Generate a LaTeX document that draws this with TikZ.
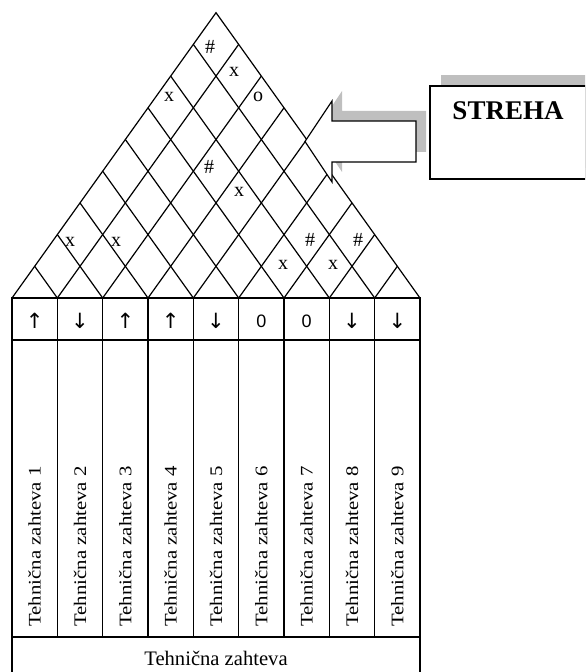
\documentclass[tikz,border=0pt]{standalone}
\usepackage{fontspec}
\setmainfont{Liberation Serif}
\newfontfamily\dirfont{Liberation Sans}
\newfontfamily\arrowfont{DejaVu Sans}
\usepackage{tikz}

\tikzset{
  gridline/.style={line width=0.6pt},
  tableline/.style={line width=0.7pt},
  corrmark/.style={inner sep=0pt, font=\fontsize{10}{10}\selectfont},
  dirmark/.style={inner sep=0pt, font=\dirfont\fontsize{9}{9}\selectfont},
  dirarrow/.style={inner sep=0pt, font=\arrowfont\fontsize{10.5}{10.5}\selectfont},
  reqlabel/.style={rotate=90, anchor=base west, inner sep=0pt, font=\fontsize{10.4}{12}\selectfont},
  shadow/.style={fill=black!25, draw=none}
}

\begin{document}
\begin{tikzpicture}[x=0.5pt,y=-0.5pt]
\clip (0,0) rectangle (585,672);
\def\colw{45.333}
\def\rowh{31.7}
% roof
\draw[gridline] (12,298) -- (216,12.7) -- (420,298);
\foreach \i in {1,...,8} {
  \draw[gridline] ({12+\i*\colw},298) -- ({(12+\i*\colw+420)/2},{298-(9-\i)*\rowh});
  \draw[gridline] ({12+\i*\colw},298) -- ({(12+\i*\colw+12)/2},{298-\i*\rowh});
}
% correlations
\foreach \s/\xx/\yy/\nm in {\#/210/47/c19, x/234/72/c29, x/169/97/c17, o/258/97/c39,
    \#/209/167/c37, x/239/192/c47, x/70/242/c13, x/116/242/c24,
    x/283/265/c67, \#/310/240/c68, x/333/265/c78, \#/358/240/c79}
  \node[corrmark] (\nm) at (\xx,\yy) {\s};
% table
\draw[tableline] (12,298) rectangle (420,700);
\draw[tableline] (12,340) -- (420,340);
\draw[tableline] (12,637) -- (420,637);
\foreach \i in {1,...,8}
  \draw[tableline] ({12+\i*\colw},298) -- ({12+\i*\colw},637);
\foreach \d/\st [count=\i] in {↑/dirarrow,↓/dirarrow,↑/dirarrow,↑/dirarrow,↓/dirarrow,0/dirmark,0/dirmark,↓/dirarrow,↓/dirarrow}
  \node[\st] (dir\i) at ({12+(\i-0.5)*\colw},321) {\d};
\foreach \i in {1,...,9}
  \node[reqlabel] (req\i) at ({12+(\i-0.5)*\colw+6},627) {\scalebox{1}[0.85]{Tehnična zahteva \i}};
\node[anchor=base, inner sep=0pt, font=\fontsize{10.3}{12}\selectfont] (reqall) at (216,665) {Tehnična zahteva};
% arrow to the roof
\def\roofarrow{(305,141.5) -- (332,101) -- (332,121) -- (416,121) -- (416,162) -- (332,162) -- (332,182) -- cycle}
\fill[shadow, shift={(10,-10)}] \roofarrow;
\draw[fill=white, line width=0.6pt] \roofarrow;
% box
\fill[shadow] (441,75) rectangle (597,168);
\draw[fill=white, line width=0.8pt] (430,86) rectangle (586,179);
\node[font=\bfseries\fontsize{13.5}{14}\selectfont] (streha) at (508,110.5) {STREHA};
\end{tikzpicture}
\end{document}
